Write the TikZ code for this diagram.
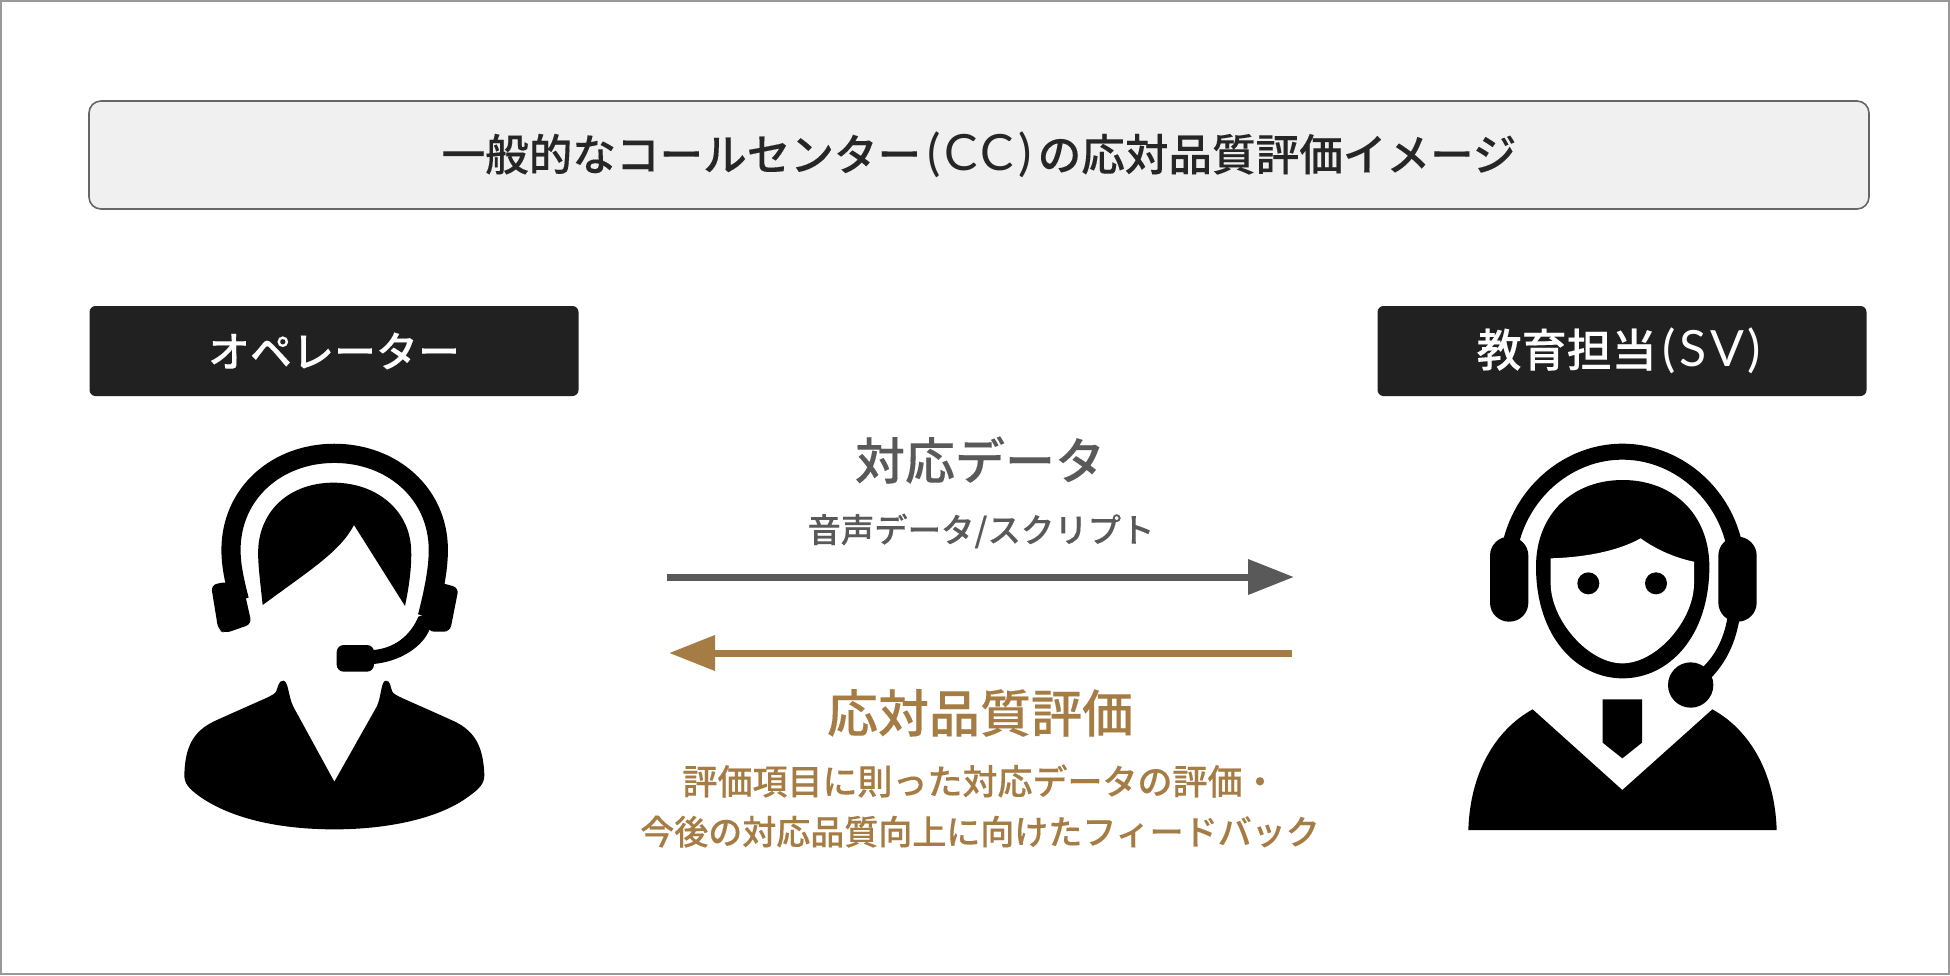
\documentclass[tikz,border=0pt]{standalone}
\usepackage{fontspec}
\setmainfont{Noto Sans CJK JP}
\newfontfamily\medfont[FakeBold=0.2]{Noto Sans CJK JP Medium}
\newfontfamily\latfont{Lato}
\newcommand{\ltn}[2]{{\latfont\fontsize{25}{25}\selectfont\kern3pt(\kern2pt #1\kern1.5pt #2\kern2pt)\kern3pt}}
\usetikzlibrary{arrows.meta}

\begin{document}
\begin{tikzpicture}[
x=.5pt, y=-.5pt,
 ttlbox/.style = {rounded corners=6pt, draw=black!60, line width=.8pt, fill=black!6,
      text=black!85, minimum width=890pt, minimum height=54pt,
      font=\fontsize{21.8}{25}\selectfont\medfont},
 rolbox/.style = {rounded corners=3pt, fill=black!87, text=white,
      minimum width=244.5pt, minimum height=45pt,
      font=\fontsize{21}{25}\selectfont\medfont},
 datlbl/.style args = {#1/#2}{text=#1, align=center, font=\fontsize{#2}{25}\selectfont\medfont},
 arw/.style = {line width=3.5pt, -{Triangle[length=23pt,width=17pt]}},
 band/.style = {draw=black, line width=#1},
 ico/.style = {fill=black}
                    ]
\definecolor{gry}{HTML}{595959}
\definecolor{brn}{HTML}{A67C45}
\useasboundingbox (0,0) rectangle (1950,975);
\draw[black!40, line width=1pt] (1,1) rectangle (1949,974);
 %
\node (T) [ttlbox]  at (979,155) {\raisebox{-2pt}{一般的なコールセンター\ltn{C}{C}の応対品質評価イメージ}};
\node (O) [rolbox]  at (334,351) {オペレーター};
\node (S) [rolbox]  at (1622,351) {\fontsize{22.5}{25}\selectfont 教育担当\ltn{S}{V}};
 %
\node (D1) [datlbl={gry/25}]    at (980,460) {対応データ};
\node (D2) [datlbl={gry/16.7}]  at (981,531) {音声データ/スクリプト};
\node (E1) [datlbl={brn/25.5}]  at (980,713) {応対品質評価};
\node (E2) [datlbl={brn/17}]    at (980,806)
      {{\fontsize{17.5}{25}\selectfont 評価項目に則った対応データの評価・}\\今後の対応品質向上に向けたフィードバック};
 %
\coordinate (AL) at (667,577);
\coordinate (AR) at (1294,577);
\coordinate (BL) at (669,653);
\coordinate (BR) at (1292,653);
\draw[arw, draw=gry, fill=gry] (AL) -- (AR);
\draw[arw, draw=brn, fill=brn] (BR) -- (BL);
 %
\begin{scope}[shift={(150,420)}, x=.16667pt, y=-.16667pt]
\draw[band=9.6pt] (268,540) .. controls (250,470) and (243,430) .. (243,390)
      .. controls (243,220) and (380,100) .. (553,100)
      .. controls (726,100) and (865,220) .. (865,390)
      .. controls (865,450) and (850,520) .. (832,590);
\fill[ico, rounded corners=3pt] (183,495) -- (230,485) -- (280,500) -- (305,612) -- (225,640) -- (205,630) -- cycle;
\fill[ico, rounded corners=3pt] (860,485) -- (926,503) -- (900,635) -- (835,635) -- (825,600) -- cycle;
\fill[ico] (805,590) .. controls (780,650) and (730,685) .. (670,690) -- (670,732)
      .. controls (750,725) and (820,680) .. (840,625) -- (860,570) -- cycle;
\fill[ico, rounded corners=3.5pt] (560,675) rectangle (672,755);
\fill[ico] (338,555) .. controls (330,480) and (322,420) .. (325,380)
      .. controls (335,260) and (430,188) .. (550,188)
      .. controls (680,188) and (775,270) .. (783,380)
      .. controls (787,440) and (775,510) .. (765,558) -- (612,315)
      .. controls (570,395) and (480,450) .. (338,555) -- cycle;
\fill[ico] (400,782) .. controls (385,782) and (385,800) .. (378,815)
      .. controls (370,828) and (350,832) .. (190,905)
      .. controls (130,935) and (105,980) .. (103,1065)
      .. controls (103,1090) and (115,1105) .. (150,1130)
      .. controls (250,1200) and (400,1228) .. (553,1228)
      .. controls (700,1228) and (860,1200) .. (955,1130)
      .. controls (990,1105) and (1003,1090) .. (1003,1065)
      .. controls (1000,980) and (975,935) .. (915,905)
      .. controls (755,832) and (735,828) .. (727,815)
      .. controls (720,800) and (722,782) .. (708,782)
      .. controls (692,782) and (695,830) .. (680,860)
      -- (553,1085) -- (430,860)
      .. controls (415,830) and (415,782) .. (400,782) -- cycle;
\end{scope}
 %
\begin{scope}[shift={(1440,420)}, x=.16667pt, y=-.16667pt]
\draw[band=8pt] (212,370) .. controls (250,210) and (390,95) .. (547,95)
      .. controls (705,95) and (845,210) .. (882,370);
\fill[ico, rounded corners=9.5pt] (150,350) rectangle (265,605);
\fill[ico, rounded corners=9.5pt] (835,350) rectangle (950,605);
\fill[ico] (288,440) .. controls (288,280) and (400,180) .. (548,180)
      .. controls (696,180) and (808,280) .. (808,440)
      .. controls (808,650) and (686,775) .. (548,775)
      .. controls (410,775) and (288,650) .. (288,440) -- cycle;
\fill[white] (332,415) .. controls (430,412) and (530,395) .. (602,355)
      .. controls (650,390) and (710,415) .. (762,425)
      -- (762,490) .. controls (762,600) and (650,730) .. (547,730)
      .. controls (445,730) and (332,600) .. (332,490) -- cycle;
\fill[ico] (445,490) circle [radius=33];
\fill[ico] (648,490) circle [radius=33];
\fill[ico] (862,595) .. controls (850,660) and (825,705) .. (790,740) -- (812,775)
      .. controls (860,725) and (885,670) .. (898,600) -- cycle;
\fill[ico] (752,795) circle [radius=68];
\fill[ico] (488,838) -- (606,838) -- (606,968) -- (547,1015) -- (488,968) -- cycle;
\fill[ico] (278,868) -- (547,1110) -- (817,868) .. controls (930,930) and (1005,1060) .. (1010,1230)
      -- (85,1230) .. controls (90,1060) and (165,930) .. (278,868) -- cycle;
\end{scope}
\end{tikzpicture}
\end{document}
